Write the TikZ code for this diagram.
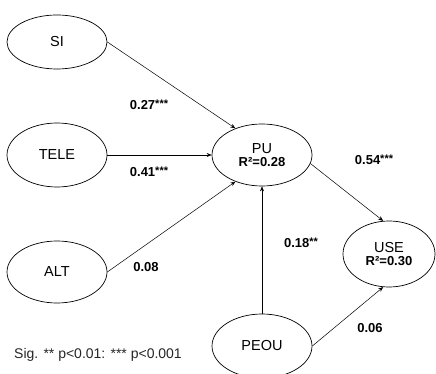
\documentclass[tikz,border=0pt]{standalone}
\usepackage{fontspec}
\setmainfont{Liberation Sans}
\usetikzlibrary{shapes.geometric,arrows.meta}
\newcommand{\stars}[1]{\raisebox{2.5pt}{\fontsize{11}{11}\selectfont #1}}
\begin{document}
\begin{tikzpicture}[x=1pt,y=-1pt,
  var/.style={draw, ellipse, inner sep=0pt, align=center, line width=0.7pt,
    font=\fontsize{14.5}{15}\selectfont},
  link/.style={-{Stealth[length=5pt,width=4pt]}, line width=0.5pt},
  coef/.style={font=\bfseries\fontsize{13}{14}\selectfont, inner sep=0pt},
  note/.style={font=\fontsize{14}{16}\selectfont, text=black!85, inner sep=0pt}]
\useasboundingbox (0,0) rectangle (436,374);
\begin{scope}
\clip (0,0) rectangle (436,374);
\node[var, minimum width=100pt, minimum height=54pt] (SI) at (57,42) {SI};
\node[var, minimum width=100pt, minimum height=64pt] (TELE) at (57,155) {TELE};
\node[var, minimum width=100pt, minimum height=62pt] (ALT) at (57,272) {ALT};
\node[var, minimum width=100pt, minimum height=62pt] (PU) at (262,155) {PU\\[-2pt]{\bfseries\fontsize{13}{14}\selectfont R²=0.28}};
\node[var, minimum width=92pt, minimum height=66pt] (USE) at (389,254) {USE\\[-2pt]{\bfseries\fontsize{13}{14}\selectfont R²=0.30}};
\node[var, minimum width=100pt, minimum height=64pt] (PEOU) at (262,346) {PEOU};
\end{scope}
\draw[link] (SI.east) -- (PU.135);
\draw[link] (TELE.east) -- (PU.west);
\draw[link] (ALT.east) -- (PU.-135);
\draw[link] (PU.-10) -- (USE.100);
\draw[link] (PEOU.north) -- (PU.south);
\draw[link] (PEOU.east) -- (USE.-100);
\node[coef] (c1) at (149,105) {0.27\stars{***}};
\node[coef] (c2) at (149,172) {0.41\stars{***}};
\node[coef] (c3) at (146,267) {0.08};
\node[coef] (c4) at (374,160) {0.54\stars{***}};
\node[coef] (c5) at (301,243) {0.18\stars{**}};
\node[coef] (c6) at (370,328) {0.06};
\node[note, anchor=west] (sig) at (14,355) {Sig. ** p<0.01: *** p<0.001};
\end{tikzpicture}
\end{document}
